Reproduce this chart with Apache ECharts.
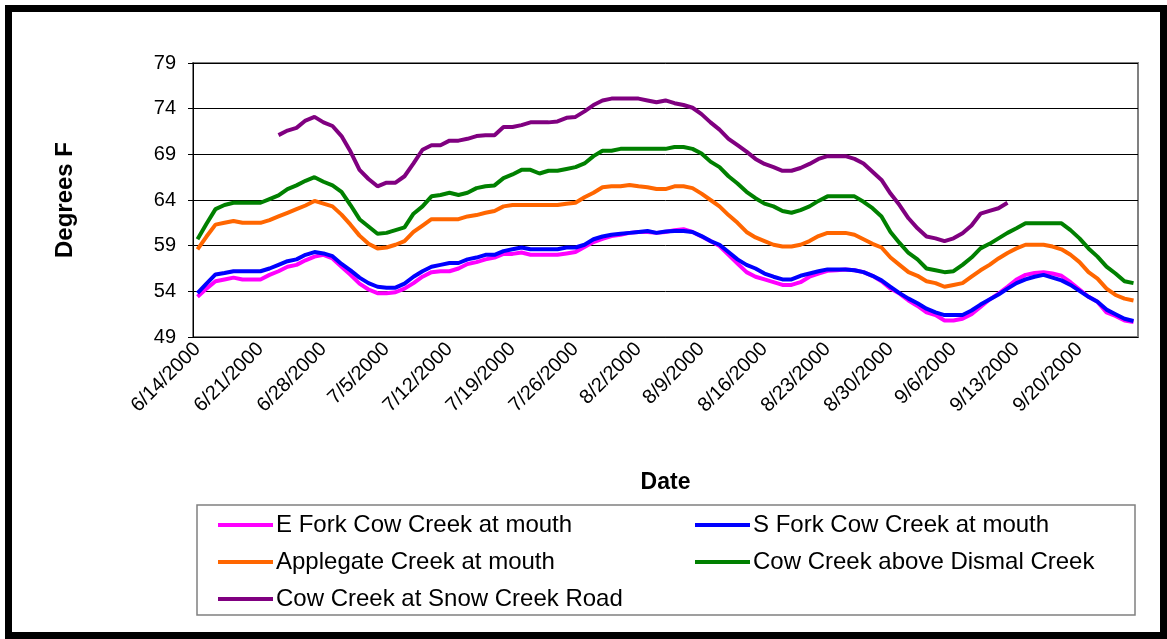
<!DOCTYPE html>
<html>
<head>
<meta charset="utf-8">
<script src="https://cdn.jsdelivr.net/npm/echarts@6/dist/echarts.min.js"></script>
<style>
  html, body { margin: 0; padding: 0; background: #fff; }
  #chart { position: absolute; left: 0; top: 0; width: 1167px; height: 639px; }
  #frame {
    position: absolute; left: 5px; top: 5px; width: 1162px; height: 634px;
    box-sizing: border-box; border: 7px solid #000; pointer-events: none;
  }
</style>
</head>
<body>
<div id="chart"></div>
<div id="frame"></div>
<script>
// daily readings, 6/14/2000 .. 9/26/2000
const startDate = new Date(2000, 5, 14)
const dayCount = 105
const dates = []
for (let i = 0; i < dayCount; i++) {
  const d = new Date(startDate.getTime() + i * 86400000)
  dates.push((d.getMonth() + 1) + '/' + d.getDate() + '/' + d.getFullYear())
}

const seriesNames = [
  'E Fork Cow Creek at mouth',
  'S Fork Cow Creek at mouth',
  'Applegate Creek at mouth',
  'Cow Creek above Dismal Creek',
  'Cow Creek at Snow Creek Road'
]
const seriesColors = ['#FF00FF', '#0000FF', '#FF6600', '#008000', '#800080']

const eForkMouth = [
  53.4, 54.3, 55.1, 55.3, 55.5, 55.3, 55.3, 55.3, 55.8, 56.2, 56.7, 56.9, 57.4, 57.8, 58.0, 57.6, 56.7, 55.8, 54.85, 54.2, 53.8,
  53.8, 53.9, 54.3, 54.9, 55.6, 56.1, 56.2, 56.2, 56.5, 57.0, 57.2, 57.5, 57.7, 58.1, 58.1, 58.25, 58.0, 58.0, 58.0, 58.0, 58.15,
  58.3, 58.85, 59.4, 59.75, 60.05, 60.2, 60.4, 60.5, 60.5, 60.4, 60.5, 60.7, 60.8, 60.5, 60.0, 59.5, 58.95, 58.0, 57.05, 56.1, 55.6,
  55.3, 55.0, 54.7, 54.7, 55.0, 55.6, 55.95, 56.25, 56.3, 56.4, 56.3, 56.1, 55.7, 55.1, 54.3, 53.75, 53.0, 52.4, 51.7, 51.4, 50.8,
  50.8, 51.0, 51.5, 52.3, 53.1, 53.75, 54.5, 55.3, 55.8, 56.0, 56.1, 55.95, 55.7, 55.0, 54.2, 53.4, 52.85, 51.7, 51.3, 50.8, 50.65
]
const sForkMouth = [
  53.8, 54.85, 55.85, 56.0, 56.2, 56.2, 56.2, 56.2, 56.5, 56.9, 57.3, 57.5, 58.0, 58.3, 58.15, 57.85, 57.0, 56.3, 55.5, 54.9, 54.5,
  54.4, 54.4, 54.85, 55.6, 56.2, 56.7, 56.9, 57.1, 57.1, 57.5, 57.7, 58.0, 58.0, 58.4, 58.6, 58.8, 58.6, 58.6, 58.6, 58.6, 58.8,
  58.8, 59.1, 59.7, 60.0, 60.2, 60.3, 60.4, 60.5, 60.6, 60.4, 60.55, 60.6, 60.6, 60.5, 60.05, 59.5, 59.1, 58.3, 57.5, 56.9, 56.5,
  55.95, 55.6, 55.3, 55.3, 55.7, 55.95, 56.2, 56.4, 56.4, 56.4, 56.3, 56.1, 55.7, 55.2, 54.5, 53.8, 53.2, 52.7, 52.1, 51.7, 51.4,
  51.4, 51.4, 51.9, 52.55, 53.1, 53.65, 54.3, 54.9, 55.3, 55.6, 55.8, 55.5, 55.2, 54.7, 54.05, 53.4, 52.85, 52.0, 51.5, 51.0, 50.75
]
const applegateMouth = [
  58.6, 60.0, 61.3, 61.5, 61.7, 61.5, 61.5, 61.5, 61.8, 62.2, 62.6, 63.0, 63.4, 63.9, 63.6, 63.3, 62.4, 61.3, 60.1, 59.2, 58.7,
  58.8, 59.1, 59.5, 60.5, 61.2, 61.9, 61.9, 61.9, 61.9, 62.2, 62.35, 62.6, 62.8, 63.3, 63.45, 63.45, 63.45, 63.45, 63.45, 63.45, 63.6,
  63.7, 64.3, 64.8, 65.4, 65.5, 65.5, 65.65, 65.5, 65.4, 65.2, 65.2, 65.5, 65.5, 65.3, 64.7, 64.0, 63.3, 62.35, 61.5, 60.5, 59.9,
  59.5, 59.1, 58.9, 58.9, 59.1, 59.5, 60.05, 60.4, 60.4, 60.4, 60.2, 59.7, 59.2, 58.8, 57.7, 56.9, 56.1, 55.7, 55.1, 54.9, 54.5,
  54.7, 54.9, 55.6, 56.3, 56.9, 57.6, 58.2, 58.7, 59.1, 59.1, 59.1, 58.9, 58.6, 58.0, 57.2, 56.1, 55.4, 54.3, 53.6, 53.2, 53.0
]
const aboveDismal = [
  59.7, 61.4, 63.0, 63.45, 63.7, 63.7, 63.7, 63.7, 64.1, 64.5, 65.2, 65.6, 66.1, 66.5, 66.0, 65.6, 64.9, 63.45, 61.9, 61.1, 60.3,
  60.4, 60.7, 61.0, 62.5, 63.3, 64.4, 64.55, 64.8, 64.55, 64.8, 65.3, 65.5, 65.6, 66.4, 66.8, 67.3, 67.3, 66.9, 67.2, 67.2, 67.4,
  67.6, 68.0, 68.8, 69.4, 69.4, 69.6, 69.6, 69.6, 69.6, 69.6, 69.6, 69.8, 69.8, 69.6, 69.1, 68.2, 67.6, 66.6, 65.8, 64.9, 64.2,
  63.6, 63.3, 62.8, 62.6, 62.9, 63.3, 63.9, 64.4, 64.4, 64.4, 64.4, 63.8, 63.1, 62.2, 60.5, 59.3, 58.2, 57.5, 56.5, 56.3, 56.1,
  56.2, 56.9, 57.7, 58.7, 59.2, 59.8, 60.4, 60.9, 61.45, 61.45, 61.45, 61.45, 61.45, 60.7, 59.8, 58.7, 57.8, 56.7, 55.95, 55.1, 54.9
]
const snowCreekRoad = [
  null, null, null, null, null, null, null, null, null, 71.1, 71.6, 71.9, 72.7, 73.1, 72.5, 72.1, 71.0, 69.3, 67.3, 66.3, 65.5,
  65.9, 65.9, 66.6, 68.0, 69.5, 70.0, 70.0, 70.5, 70.5, 70.7, 71.0, 71.1, 71.1, 72.0, 72.0, 72.2, 72.5, 72.5, 72.5, 72.6, 73.0,
  73.1, 73.7, 74.4, 74.9, 75.1, 75.1, 75.1, 75.1, 74.9, 74.7, 74.9, 74.6, 74.4, 74.1, 73.4, 72.5, 71.7, 70.7, 70.0, 69.3, 68.5,
  67.95, 67.6, 67.2, 67.2, 67.5, 67.95, 68.5, 68.8, 68.8, 68.8, 68.5, 68.0, 67.1, 66.2, 64.7, 63.45, 62.0, 60.9, 60.0, 59.8, 59.5,
  59.8, 60.35, 61.2, 62.5, 62.8, 63.1, 63.7, null, null, null, null, null, null, null, null, null, null, null, null, null, null
]
const seriesData = [eForkMouth, sForkMouth, applegateMouth, aboveDismal, snowCreekRoad]

const font = "'Liberation Sans', Arial, sans-serif"
const chart = echarts.init(document.getElementById('chart'))

const legendBase = {
  orient: 'vertical',
  top: 513,
  padding: 0,
  itemGap: 13,
  itemWidth: 55,
  itemHeight: 4,
  icon: 'rect',
  selectedMode: false,
  textStyle: { fontFamily: font, fontSize: 24, lineHeight: 24, color: '#000', padding: [0, 0, 0, -2] }
}

chart.setOption({
  animation: false,
  backgroundColor: '#fff',
  color: seriesColors,
  grid: {
    left: 193, right: 29, top: 63, bottom: 302,
    show: true, borderColor: '#808080', borderWidth: 2
  },
  legend: [
    Object.assign({}, legendBase, { left: 218, data: [seriesNames[0], seriesNames[2], seriesNames[4]] }),
    Object.assign({}, legendBase, { left: 695, data: [seriesNames[1], seriesNames[3]] })
  ],
  xAxis: {
    type: 'category',
    data: dates,
    boundaryGap: true,
    name: 'Date',
    nameLocation: 'middle',
    nameGap: 134,
    nameTextStyle: { fontFamily: font, fontSize: 23, fontWeight: 'bold', color: '#000' },
    axisLine: { lineStyle: { color: '#000', width: 1 } },
    axisTick: { interval: (i) => i % 7 === 0, length: 5, lineStyle: { color: '#000' } },
    axisLabel: {
      interval: (i) => i % 7 === 0,
      rotate: 45,
      margin: 9,
      fontFamily: font,
      fontSize: 20,
      color: '#000'
    },
    splitLine: { show: false }
  },
  yAxis: {
    type: 'value',
    min: 49, max: 79, interval: 5,
    name: 'Degrees F',
    nameLocation: 'middle',
    nameGap: 116,
    nameTextStyle: { fontFamily: font, fontSize: 24, fontWeight: 'bold', color: '#000' },
    axisLine: { show: true, lineStyle: { color: '#000', width: 1 } },
    axisTick: { show: true, length: 5, lineStyle: { color: '#000' } },
    axisLabel: { margin: 17, fontFamily: font, fontSize: 20, color: '#000' },
    splitLine: { lineStyle: { color: '#000', width: 1 } }
  },
  graphic: [{
    type: 'rect',
    shape: { x: 197, y: 505, width: 938, height: 110 },
    style: { fill: 'none', stroke: '#808080', lineWidth: 1.5 },
    silent: true
  }],
  series: seriesNames.map((name, k) => ({
    name: name,
    type: 'line',
    data: seriesData[k],
    symbol: 'none',
    lineStyle: { width: 4, color: seriesColors[k] },
    itemStyle: { color: seriesColors[k] }
  }))
})
</script>
</body>
</html>
